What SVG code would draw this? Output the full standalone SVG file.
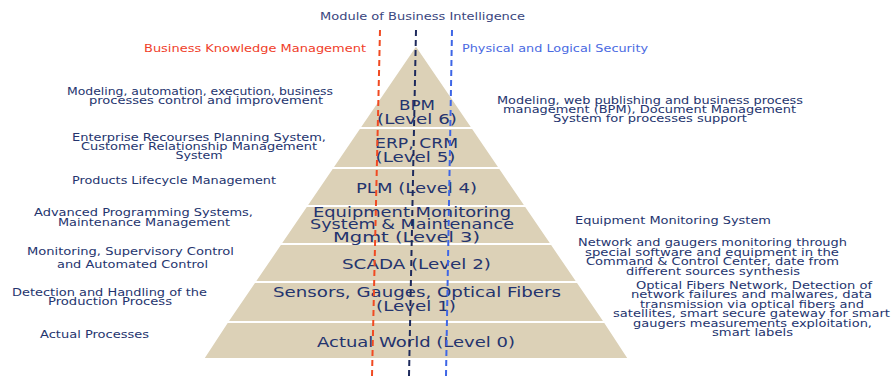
<svg xmlns="http://www.w3.org/2000/svg" width="893" height="376" viewBox="0 0 893 376">
<style>
.layer{fill:#DCD1B7;stroke:#ffffff;stroke-width:2;stroke-linejoin:miter}
text{font-family:"DejaVu Sans",Verdana,sans-serif;fill:#24346E;text-anchor:middle}
.lv{font-size:13.5px}
.sd{font-size:9.8px}
.top{font-size:10.5px;fill:#3A4680}
.red{font-size:10.5px;fill:#F0402A}
.blue{font-size:10.5px;fill:#4A6AE2}
.dash{fill:none;stroke-width:2;stroke-dasharray:6 4}
</style>
<rect width="893" height="376" fill="#ffffff"/>
<g id="level6"><polygon class="layer" points="416,45 472.6,128 359.4,128"/>
<text class="lv" x="417" y="110" textLength="36" lengthAdjust="spacingAndGlyphs">BPM</text>
<text class="lv" x="417" y="124" textLength="80" lengthAdjust="spacingAndGlyphs">(Level 6)</text></g>
<g id="level5"><polygon class="layer" points="359.4,128 472.6,128 499.8,168 332.2,168"/>
<text class="lv" x="416.5" y="148" textLength="83" lengthAdjust="spacingAndGlyphs">ERP, CRM</text>
<text class="lv" x="415.5" y="162" textLength="80" lengthAdjust="spacingAndGlyphs">(Level 5)</text></g>
<g id="level4"><polygon class="layer" points="332.2,168 499.8,168 525.7,206 306.3,206"/>
<text class="lv" x="416.5" y="193" textLength="121" lengthAdjust="spacingAndGlyphs">PLM (Level 4)</text></g>
<g id="level2"><polygon class="layer" points="280.4,244 551.6,244 577.5,282 254.5,282"/>
<text class="lv" x="416.5" y="269" textLength="149" lengthAdjust="spacingAndGlyphs">SCADA (Level 2)</text></g>
<g id="level3"><polygon class="layer" points="306.3,206 525.7,206 551.6,244 280.4,244"/>
<text class="lv" x="412" y="216.5" textLength="198" lengthAdjust="spacingAndGlyphs">Equipment Monitoring</text>
<text class="lv" x="412" y="229" textLength="204" lengthAdjust="spacingAndGlyphs">System &amp; Maintenance</text>
<text class="lv" x="406.5" y="241.5" textLength="147" lengthAdjust="spacingAndGlyphs">Mgmt (Level 3)</text></g>
<g id="level1"><polygon class="layer" points="254.5,282 577.5,282 604.8,322 227.2,322"/>
<text class="lv" x="417" y="297" textLength="288" lengthAdjust="spacingAndGlyphs">Sensors, Gauges, Optical Fibers</text>
<text class="lv" x="416" y="311" textLength="80" lengthAdjust="spacingAndGlyphs">(Level 1)</text></g>
<g id="level0"><polygon class="layer" points="227.2,322 604.8,322 629,359 203,359"/>
<text class="lv" x="416" y="347" textLength="198" lengthAdjust="spacingAndGlyphs">Actual World (Level 0)</text></g>
<g id="titles">
<text class="top" x="422.5" y="20" textLength="205" lengthAdjust="spacingAndGlyphs">Module of Business Intelligence</text>
<text class="red" x="255" y="52" textLength="222" lengthAdjust="spacingAndGlyphs">Business Knowledge Management</text>
<text class="blue" x="555" y="52" textLength="186" lengthAdjust="spacingAndGlyphs">Physical and Logical Security</text>
</g>
<g id="left-notes">
<text class="sd" x="200" y="95" textLength="266" lengthAdjust="spacingAndGlyphs">Modeling, automation, execution, business</text>
<text class="sd" x="206" y="104" textLength="234" lengthAdjust="spacingAndGlyphs">processes control and improvement</text>
<text class="sd" x="199" y="141" textLength="254" lengthAdjust="spacingAndGlyphs">Enterprise Recourses Planning System,</text>
<text class="sd" x="199" y="150" textLength="236" lengthAdjust="spacingAndGlyphs">Customer Relationship Management</text>
<text class="sd" x="199" y="159" textLength="47" lengthAdjust="spacingAndGlyphs">System</text>
<text class="sd" x="174" y="184" textLength="204" lengthAdjust="spacingAndGlyphs">Products Lifecycle Management</text>
<text class="sd" x="143.5" y="216" textLength="219" lengthAdjust="spacingAndGlyphs">Advanced Programming Systems,</text>
<text class="sd" x="144" y="226" textLength="172" lengthAdjust="spacingAndGlyphs">Maintenance Management</text>
<text class="sd" x="130.5" y="255" textLength="207" lengthAdjust="spacingAndGlyphs">Monitoring, Supervisory Control</text>
<text class="sd" x="132.5" y="268" textLength="151" lengthAdjust="spacingAndGlyphs">and Automated Control</text>
<text class="sd" x="109.5" y="296" textLength="195" lengthAdjust="spacingAndGlyphs">Detection and Handling of the</text>
<text class="sd" x="110" y="305" textLength="124" lengthAdjust="spacingAndGlyphs">Production Process</text>
<text class="sd" x="94.5" y="338" textLength="109" lengthAdjust="spacingAndGlyphs">Actual Processes</text>
</g>
<g id="right-notes">
<text class="sd" x="650" y="104" textLength="306" lengthAdjust="spacingAndGlyphs">Modeling, web publishing and business process</text>
<text class="sd" x="649.5" y="113" textLength="293" lengthAdjust="spacingAndGlyphs">management (BPM), Document Management</text>
<text class="sd" x="650" y="122" textLength="194" lengthAdjust="spacingAndGlyphs">System for processes support</text>
<text class="sd" x="673" y="224" textLength="196" lengthAdjust="spacingAndGlyphs">Equipment Monitoring System</text>
<text class="sd" x="712.5" y="246" textLength="269" lengthAdjust="spacingAndGlyphs">Network and gaugers monitoring through</text>
<text class="sd" x="712" y="256" textLength="254" lengthAdjust="spacingAndGlyphs">special software and equipment in the</text>
<text class="sd" x="712.5" y="265" textLength="253" lengthAdjust="spacingAndGlyphs">Command &amp; Control Center, date from</text>
<text class="sd" x="713" y="275" textLength="174" lengthAdjust="spacingAndGlyphs">different sources synthesis</text>
<text class="sd" x="754" y="289" textLength="236" lengthAdjust="spacingAndGlyphs">Optical Fibers Network, Detection of</text>
<text class="sd" x="751.5" y="298" textLength="241" lengthAdjust="spacingAndGlyphs">network failures and malwares, data</text>
<text class="sd" x="752" y="308" textLength="224" lengthAdjust="spacingAndGlyphs">transmission via optical fibers and</text>
<text class="sd" x="751.5" y="317" textLength="277" lengthAdjust="spacingAndGlyphs">satellites, smart secure gateway for smart</text>
<text class="sd" x="752.5" y="327" textLength="239" lengthAdjust="spacingAndGlyphs">gaugers measurements exploitation,</text>
<text class="sd" x="752.5" y="336" textLength="81" lengthAdjust="spacingAndGlyphs">smart labels</text>
</g>
<g id="connectors">
<line class="dash" x1="380" y1="30" x2="372" y2="376" stroke="#F04A22"/>
<line class="dash" x1="416" y1="30" x2="409" y2="376" stroke="#1E2A5C"/>
<line class="dash" x1="452" y1="30" x2="446" y2="376" stroke="#3E66E6"/>
</g>
</svg>
